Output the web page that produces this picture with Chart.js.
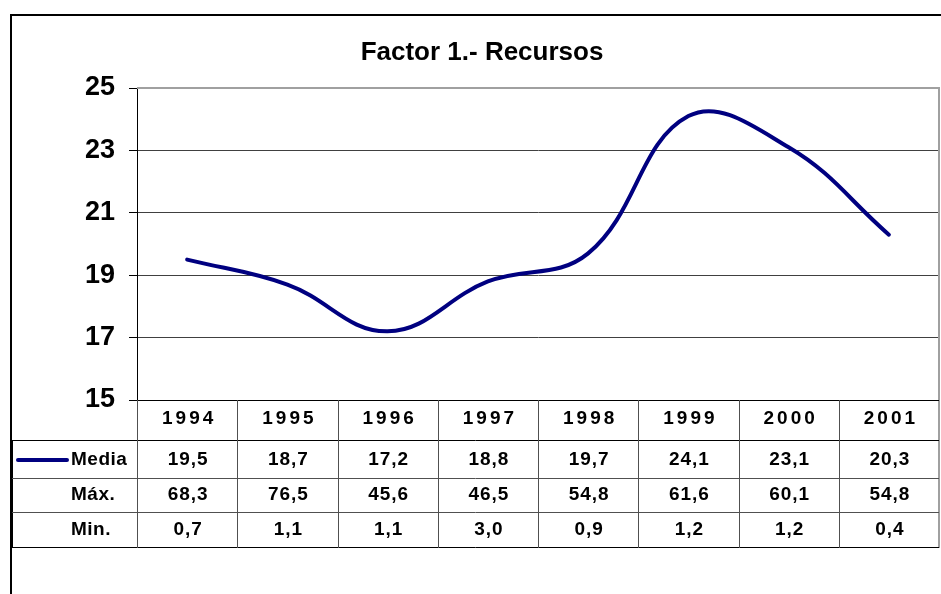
<!DOCTYPE html>
<html>
<head>
<meta charset="utf-8">
<script src="https://cdn.jsdelivr.net/npm/chart.js@4.4.1/dist/chart.umd.min.js"></script>
<style>
  body { margin: 0; background: #fff; }
  canvas { display: block; }
</style>
</head>
<body>
<canvas id="js-factorChart" width="941" height="594"></canvas>
<script>
// Datos
const years = ['1994', '1995', '1996', '1997', '1998', '1999', '2000', '2001'];
const media = [19.5, 18.7, 17.2, 18.8, 19.7, 24.1, 23.1, 20.3];
const maxValues = [68.3, 76.5, 45.6, 46.5, 54.8, 61.6, 60.1, 54.8];
const minValues = [0.7, 1.1, 1.1, 3.0, 0.9, 1.2, 1.2, 0.4];
const yTicks = [15, 17, 19, 21, 23, 25];
const titleText = 'Factor 1.- Recursos';

const navy = '#000080';
const fmt = (v) => v.toFixed(1).replace('.', ',');

// Marco, título y tabla de datos
const tablePlugin = {
    id: 'tablePlugin',
    afterDraw(chart) {
        const ctx = chart.ctx;
        const area = chart.chartArea;
        const x = chart.scales.x;
        const left = 12;

        ctx.save();

        // marco exterior
        ctx.strokeStyle = '#000';
        ctx.lineWidth = 2;
        ctx.strokeRect(11, 15, 960, 620);

        // borde gris del área
        ctx.strokeStyle = '#a0a0a0';
        ctx.lineWidth = 2;
        ctx.beginPath();
        ctx.moveTo(area.left, area.top);
        ctx.lineTo(area.right, area.top);
        ctx.lineTo(area.right, 548);
        ctx.stroke();

        // título
        ctx.fillStyle = '#000';
        ctx.font = 'bold 26px "Liberation Sans", Arial, sans-serif';
        ctx.textAlign = 'center';
        ctx.textBaseline = 'middle';
        ctx.fillText(titleText, 482, 53);

        // líneas de la tabla
        ctx.lineWidth = 1;
        ctx.strokeStyle = '#000';
        ctx.beginPath();
        ctx.moveTo(area.left, area.bottom + 0.5);
        ctx.lineTo(area.right, area.bottom + 0.5);
        ctx.moveTo(left, 440.5);
        ctx.lineTo(area.right, 440.5);
        ctx.moveTo(left, 547.5);
        ctx.lineTo(area.right, 547.5);
        ctx.moveTo(left + 0.5, 440);
        ctx.lineTo(left + 0.5, 548);
        ctx.stroke();

        ctx.strokeStyle = '#505050';
        ctx.beginPath();
        ctx.moveTo(left, 478.5);
        ctx.lineTo(area.right, 478.5);
        ctx.moveTo(left, 512.5);
        ctx.lineTo(area.right, 512.5);
        const step = (area.right - area.left) / years.length;
        for (let i = 0; i < years.length; i++) {
            const cx = Math.round(area.left + i * step) + 0.5;
            ctx.moveTo(cx, area.bottom);
            ctx.lineTo(cx, 548);
        }
        ctx.stroke();

        // textos
        ctx.fillStyle = '#000';
        ctx.textAlign = 'center';
        ctx.font = 'bold 19px "Liberation Sans", Arial, sans-serif';
        ctx.letterSpacing = '3px';
        years.forEach((y, i) => ctx.fillText(y, x.getPixelForValue(i) + 2, 419));
        ctx.letterSpacing = '1px';
        const rowY = [460, 495, 530];
        [media, maxValues, minValues].forEach((arr, r) => {
            arr.forEach((v, i) => ctx.fillText(fmt(v), x.getPixelForValue(i) + 1, rowY[r]));
        });

        ctx.textAlign = 'left';
        ctx.letterSpacing = '0.5px';
        ctx.fillText('Media', 71, rowY[0]);
        ctx.fillText('Máx.', 71, rowY[1]);
        ctx.fillText('Min.', 71, rowY[2]);

        // clave de la serie
        ctx.strokeStyle = navy;
        ctx.lineWidth = 4;
        ctx.lineCap = 'round';
        ctx.beginPath();
        ctx.moveTo(18, 460);
        ctx.lineTo(67, 460);
        ctx.stroke();

        ctx.restore();
    }
};

const ctx = document.getElementById('js-factorChart').getContext('2d');
const factorChart = new Chart(ctx, {
    type: 'line',
    data: {
        labels: years,
        datasets: [{
            label: 'Media',
            data: media,
            borderColor: navy,
            backgroundColor: navy,
            borderWidth: 4,
            borderCapStyle: 'round',
            pointRadius: 0,
            tension: 0.4,
            fill: false
        }]
    },
    options: {
        responsive: false,
        devicePixelRatio: 1,
        animation: false,
        layout: {
            padding: {left: 0, top: 88, right: 2, bottom: 194}
        },
        plugins: {
            legend: {display: false},
            title: {display: false},
            tooltip: {enabled: false}
        },
        scales: {
            x: {
                display: false,
                offset: true
            },
            y: {
                min: 15,
                max: 25,
                afterFit: (scale) => { scale.width = 137; },
                afterBuildTicks: (scale) => {
                    scale.ticks = yTicks.map(v => ({value: v}));
                },
                border: {display: true, color: '#000', width: 1},
                grid: {
                    color: '#404040',
                    lineWidth: 1,
                    tickLength: 8,
                    tickColor: '#000'
                },
                ticks: {
                    color: '#000',
                    padding: 14,
                    font: {family: '"Liberation Sans", Arial, sans-serif', size: 27, weight: 'bold'}
                }
            }
        }
    },
    plugins: [tablePlugin]
});
</script>
</body>
</html>
